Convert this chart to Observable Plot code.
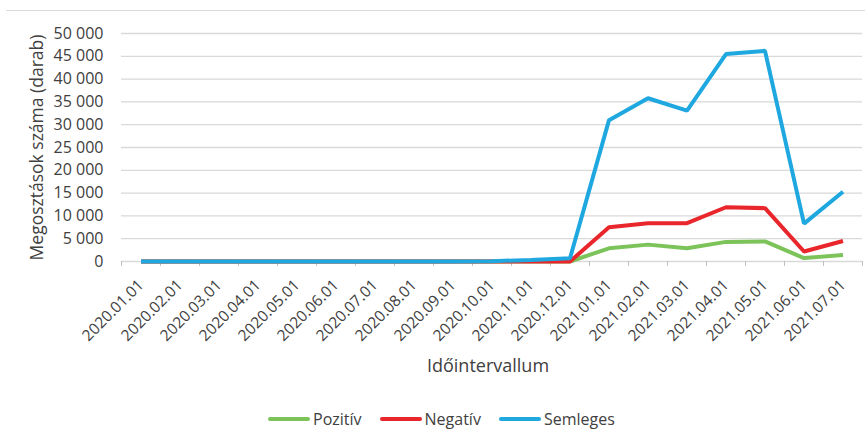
<!DOCTYPE html>
<html>
<head>
<meta charset="utf-8">
<script src="https://cdn.jsdelivr.net/npm/d3@7"></script>
<script src="https://cdn.jsdelivr.net/npm/@observablehq/plot@0.6"></script>
<style>
  body { margin: 0; background: #fff; font-family: "Open Sans", sans-serif; }
  #wrap { position: relative; width: 865px; height: 431px; overflow: hidden; }
  #topline { position: absolute; left: 6px; right: 0; top: 10px; height: 0; border-top: 1px solid #d9d9d9; }
  #legend { position: absolute; left: 268px; top: 408px; display: flex; align-items: center; font-size: 16px; color: #404040; }
  .item { display: flex; align-items: center; margin-right: 18px; }
  .sw { width: 42px; height: 4px; border-radius: 2px; margin-right: 3px; }
</style>
</head>
<body>
<div id="wrap">
  <div id="chart"></div>
  <div id="topline"></div>
  <div id="legend"></div>
</div>
<script>
const months = ["2020.01.01","2020.02.01","2020.03.01","2020.04.01","2020.05.01","2020.06.01","2020.07.01","2020.08.01","2020.09.01","2020.10.01","2020.11.01","2020.12.01","2021.01.01","2021.02.01","2021.03.01","2021.04.01","2021.05.01","2021.06.01","2021.07.01"];
const pozitiv  = [0,0,0,0,0,0,0,0,0,0,0,0, 2900,3700,2900,4300,4400,750,1400];
const negativ  = [0,0,0,0,0,0,0,0,0,0,0,0, 7500,8400,8400,11900,11700,2200,4500];
const semleges = [0,0,0,0,0,0,0,0,0,80,350,700, 31000,35800,33100,45500,46200,8300,15300];
const seriesNames = ["Pozitív","Negatív","Semleges"];
const seriesColors = ["#7cc35a","#e8262b","#1fa8e0"];
const yTicks = d3.range(0, 50001, 5000);

const seriesValues = [pozitiv, negativ, semleges];
const lines = seriesValues.map((vals, k) =>
  Plot.line(months.map((m, i) => ({i, m, v: vals[i]})), {
    x: d => d.i + 0.5, y: "v", stroke: seriesColors[k], strokeWidth: 4, strokeLinejoin: "miter", strokeLinecap: "butt"
  })
);

const fmt = d => d3.format(",")(d).replace(/,/g, "\u00a0");

const chart = Plot.plot({
  width: 865,
  height: 395,
  marginLeft: 121,
  marginRight: 3,
  marginTop: 33,
  marginBottom: 134,
  style: {fontFamily: "'Open Sans', sans-serif", fontSize: "16px", color: "#404040", background: "#fff"},
  x: {type: "linear", domain: [0, months.length]},
  y: {domain: [0, 50000]},
  marks: [
    Plot.gridY(yTicks, {stroke: "#d9d9d9", strokeOpacity: 1, strokeWidth: 1.3}),
    Plot.axisY(yTicks, {tickSize: 0, tickPadding: 18, tickFormat: fmt, label: null, fill: "#404040", fontSize: 16}),
    Plot.axisX(d3.range(months.length + 1), {tickSize: 5, tickFormat: () => "", stroke: "#bfbfbf", label: null}),
    Plot.axisX(months.map((m, i) => i + 0.5), {tickSize: 0, tickPadding: 21, tickRotate: -45, tickFormat: d => months[Math.round(d - 0.5)], label: null, fill: "#404040", fontSize: 15.5}),
    Plot.text(["Megosztások száma (darab)"], {frameAnchor: "left", textAnchor: "middle", rotate: -90, dx: -84, fontSize: 17.5, fill: "#404040"}),
    Plot.text(["Időintervallum"], {frameAnchor: "bottom", dy: 110, dx: -4, fontSize: 18, fill: "#404040"}),
    ...lines
  ]
});
document.getElementById("chart").appendChild(chart);

const legend = document.getElementById("legend");
seriesNames.forEach((n, k) => {
  const it = document.createElement("div");
  it.className = "item";
  it.innerHTML = `<span class="sw" style="background:${seriesColors[k]}"></span><span>${n}</span>`;
  legend.appendChild(it);
});
</script>
</body>
</html>
